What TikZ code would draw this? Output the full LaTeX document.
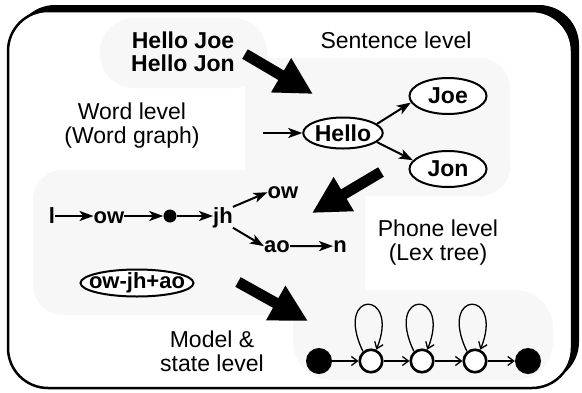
\documentclass[tikz,border=0pt]{standalone}
\usepackage{fontspec}
\setmainfont{Liberation Sans}
\usetikzlibrary{arrows.meta,shapes.geometric,calc}

\begin{document}
\begin{tikzpicture}[x=1pt,y=1pt,
  lbl/.style={font=\fontsize{23}{24}\selectfont, align=center, inner sep=0pt},
  bold/.style={font=\fontsize{23}{23}\selectfont\bfseries, align=center, inner sep=0pt},
  ph/.style={font=\fontsize{22}{24}\selectfont\bfseries, inner sep=0pt, anchor=base},
  wordnode/.style={ellipse, draw, line width=2pt, fill=white, inner sep=0pt,
                   minimum width=77pt, font=\fontsize{23}{25}\selectfont\bfseries},
  conn/.style={line width=2pt, -{Stealth[length=14pt,width=10pt,inset=3.5pt]}},
  bigarrow/.style={line width=11pt, -{Triangle[length=37pt,width=37pt]}},
  hmmconn/.style={line width=1.3pt, -{Straight Barb[length=6pt,width=9pt]}},
  hmmstate/.style={circle, draw, line width=2.6pt, fill=white, minimum size=22.5pt, inner sep=0pt},
  hmmend/.style={circle, fill=black, minimum size=26pt, inner sep=0pt},
  blob/.style={fill=black!3, rounded corners=30pt},
]
\useasboundingbox (0,0) rectangle (582,-392);

% frame with offset shadow
\fill[rounded corners=40pt] (15,-5) rectangle (579,-382);
\draw[line width=2.5pt, fill=white, rounded corners=40pt] (8,-11) rectangle (572,-388);

% shaded level regions
\fill[blob, rounded corners=34pt] (100,-18) rectangle (267,-88);
\fill[blob] (245,-58) rectangle (510,-196);
\fill[blob] (33,-170) rectangle (365,-315);
\fill[blob, rounded corners=38pt] (293,-290) rectangle (553,-380);

% level captions
\node[bold] (sentences) at (183,-52) {Hello Joe\\Hello Jon};
\node[lbl] (sentlab) at (396,-40) {Sentence level};
\node[lbl] (wordlab) at (132,-126) {Word level\\(Word graph)};
\node[lbl] (phonelab) at (438,-243) {Phone level\\(Lex tree)};
\node[lbl] (modellab) at (212,-351) {Model \&\\state level};

% word graph
\coordinate (win) at (263,-133);
\node[wordnode, minimum height=31pt] (hello) at (343,-133) {Hello};
\node[wordnode, minimum height=36pt] (joe) at (448,-96) {Joe};
\node[wordnode, minimum height=36pt] (jon) at (448,-169) {Jon};
\draw[conn] (win) -- (hello);
\draw[conn] (hello.15) -- (joe.190);
\draw[conn] (hello.345) -- (jon.166);

% phone tree
\node[ph] (l) at (52,-223) {l};
\node[ph] (ow1) at (109,-223) {ow};
\node[circle, fill=black, minimum size=13pt, inner sep=0pt] (dot) at (170,-216) {};
\node[ph] (jh) at (223,-223) {jh};
\node[ph] (ow2) at (283,-198) {ow};
\node[ph] (ao) at (277,-252) {ao};
\node[ph] (n) at (340,-252) {n};
\draw[conn] (l.east |- dot) -- (ow1.west |- dot);
\draw[conn] (ow1.east |- dot) -- (dot.west);
\draw[conn] (dot.east) -- (jh.west |- dot);
\draw[conn] (jh.north east) -- (ow2.west);
\draw[conn] (jh.south east) -- (ao.west);
\draw[conn] (ao.east) -- (n.west);

% triphone model
\node[ellipse, draw, line width=2pt, fill=white, minimum width=113pt, minimum height=27pt] (tri) at (137,-283) {};
\node[bold, font=\fontsize{22}{24}\selectfont\bfseries] (tritext) at (tri) {ow-jh+ao};

% HMM states
\node[hmmend] (q0) at (319,-361) {};
\node[hmmstate] (q1) at (371,-361) {};
\node[hmmstate] (q2) at (422,-361) {};
\node[hmmstate] (q3) at (475,-361) {};
\node[hmmend] (q4) at (528,-361) {};
\draw[hmmconn] (q0) -- (q1);
\draw[hmmconn] (q1) -- (q2);
\draw[hmmconn] (q2) -- (q3);
\draw[hmmconn] (q3) -- (q4);
\foreach \q in {q1,q2,q3}
  \draw[hmmconn] (\q.130) .. controls ($(\q)+(-38,72)$) and ($(\q)+(30,72)$) .. (\q.65);

% level-to-level arrows
\coordinate (a1s) at (245,-54);  \coordinate (a1e) at (313,-94);
\coordinate (a2s) at (381,-172); \coordinate (a2e) at (312,-213);
\coordinate (a3s) at (238,-282); \coordinate (a3e) at (308,-321);
\draw[bigarrow] (a1s) -- (a1e);
\draw[bigarrow] (a2s) -- (a2e);
\draw[bigarrow] (a3s) -- (a3e);
\end{tikzpicture}
\end{document}
